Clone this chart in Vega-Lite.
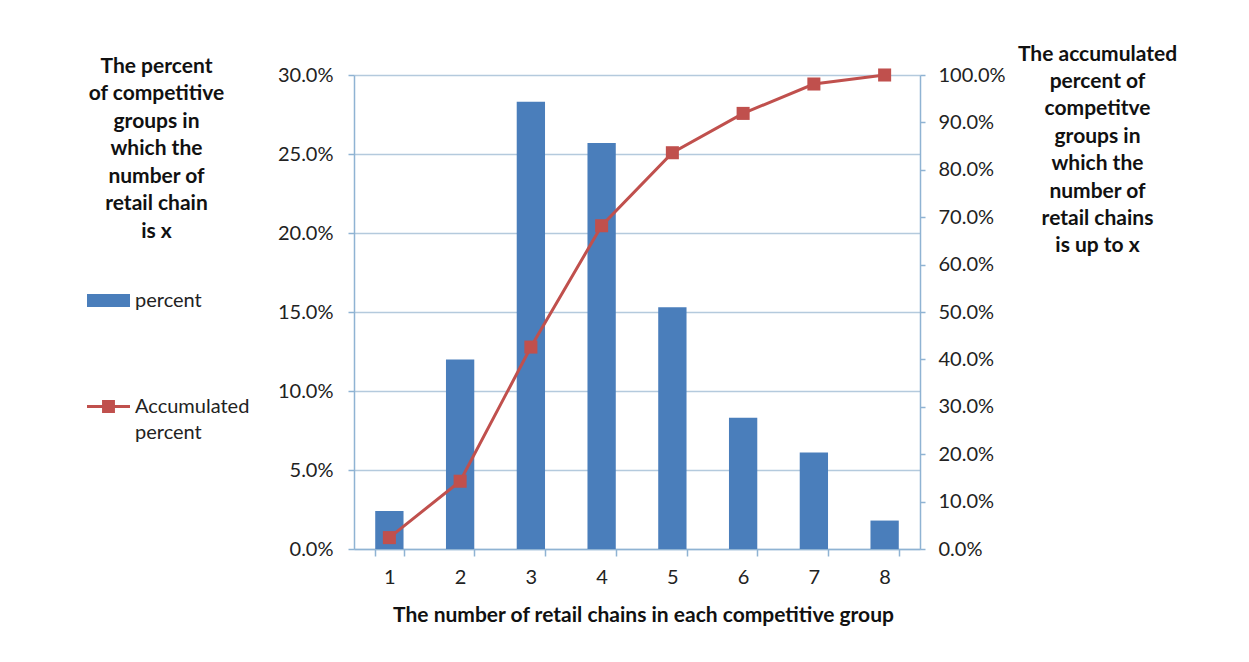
{
  "$schema": "https://vega.github.io/schema/vega-lite/v6.json",
  "width": 566,
  "height": 474,
  "autosize": {"type": "none"},
  "padding": {"left": 354, "top": 75, "right": 329, "bottom": 113},
  "background": "white",
  "config": {
    "font": "Lato",
    "view": {"stroke": null},
    "axis": {
      "labelFont": "Lato",
      "labelColor": "#222222",
      "titleColor": "#111111",
      "titleFont": "Lato",
      "domainColor": "#8fb3d3",
      "tickColor": "#8fb3d3",
      "gridColor": "#b4cadd",
      "domainWidth": 1.5,
      "tickWidth": 1.5,
      "gridWidth": 1.5
    },
    "legend": {"labelFont": "Lato"}
  },
  "data": {
    "values": [
      {"n": "1", "percent": 0.024, "accumulated": 0.024},
      {"n": "2", "percent": 0.120, "accumulated": 0.143},
      {"n": "3", "percent": 0.283, "accumulated": 0.426},
      {"n": "4", "percent": 0.257, "accumulated": 0.682},
      {"n": "5", "percent": 0.153, "accumulated": 0.836},
      {"n": "6", "percent": 0.083, "accumulated": 0.919},
      {"n": "7", "percent": 0.061, "accumulated": 0.981},
      {"n": "8", "percent": 0.018, "accumulated": 1.0}
    ]
  },
  "encoding": {
    "x": {
      "field": "n",
      "type": "ordinal",
      "scale": {"paddingInner": 0.6, "paddingOuter": 0.3},
      "axis": {
        "labelAngle": 0,
        "tickBand": "extent",
        "tickSize": 7,
        "labelPadding": 11,
        "labelFontSize": 20,
        "grid": false,
        "title": "The number of retail chains in each competitive group",
        "titleFontSize": 21,
        "titleFontWeight": "bold",
        "titleX": 289,
        "titleY": 66,
        "titleBaseline": "middle",
        "titleAlign": "center"
      }
    }
  },
  "layer": [
    {
      "mark": {"type": "bar"},
      "encoding": {
        "y": {
          "field": "percent",
          "type": "quantitative",
          "scale": {"domain": [0, 0.3], "nice": false},
          "axis": {
            "orient": "left",
            "values": [0, 0.05, 0.1, 0.15, 0.2, 0.25, 0.3],
            "format": ".1%",
            "grid": true,
            "tickSize": 6,
            "labelPadding": 15,
            "labelFontSize": 20,
            "title": ["The percent", "of competitive", "groups in", "which the", "number of", "retail chain", "is x"],
            "titleAngle": 0,
            "titleX": -198,
            "titleY": -20,
            "titleAlign": "center",
            "titleBaseline": "top",
            "titleFontSize": 21,
            "titleFontWeight": "bold",
            "titleLineHeight": 27.5
          }
        },
        "fill": {
          "datum": "percent",
          "scale": {"domain": ["percent"], "range": ["#4a7ebb"]},
          "legend": {
            "title": null,
            "orient": "none",
            "legendX": -267,
            "legendY": 204,
            "padding": 0,
            "symbolType": "M-1,-0.3H1V0.3H-1Z",
            "symbolSize": 1849,
            "symbolStrokeWidth": 0,
            "labelFontSize": 20,
            "labelColor": "#222222",
            "labelOffset": 5
          }
        }
      }
    },
    {
      "encoding": {
        "y": {
          "field": "accumulated",
          "type": "quantitative",
          "scale": {"domain": [0, 1], "nice": false},
          "axis": {
            "orient": "right",
            "values": [0, 0.1, 0.2, 0.3, 0.4, 0.5, 0.6, 0.7, 0.8, 0.9, 1.0],
            "format": ".1%",
            "grid": false,
            "tickSize": 5,
            "labelPadding": 13,
            "labelFontSize": 20,
            "title": ["The accumulated", "percent of", "competitve", "groups in", "which the", "number of", "retail chains", "is up to x"],
            "titleAngle": 0,
            "titleX": 177,
            "titleY": -32,
            "titleAlign": "center",
            "titleBaseline": "top",
            "titleFontSize": 21,
            "titleFontWeight": "bold",
            "titleLineHeight": 27.4
          }
        }
      },
      "layer": [
        {
          "mark": {"type": "line", "strokeWidth": 3},
          "encoding": {
            "stroke": {
              "datum": "Accumulated percent",
              "scale": {"domain": ["Accumulated percent"], "range": ["#c0504d"]},
              "legend": {
                "title": null,
                "orient": "none",
                "legendX": -267,
                "legendY": 310,
                "padding": 0,
                "symbolType": "M-1,-0.07H1V0.07H-1Z M-0.3,-0.3H0.3V0.3H-0.3Z",
                "symbolSize": 1849,
                "labelFontSize": 20,
                "labelColor": "#222222",
                "labelOffset": 5,
                "labelExpr": "['Accumulated', 'percent']",
                "encode": {
                  "symbols": {
                    "update": {
                      "fill": {"value": "#c0504d"},
                      "stroke": {"value": "#c0504d"},
                      "strokeWidth": {"value": 0}
                    }
                  },
                  "labels": {
                    "update": {
                      "lineHeight": {"value": 26}
                    }
                  }
                }
              }
            }
          }
        },
        {
          "mark": {"type": "point", "shape": "square", "size": 170, "filled": true, "color": "#c0504d", "opacity": 1}
        }
      ]
    }
  ],
  "resolve": {"scale": {"y": "independent"}}
}
